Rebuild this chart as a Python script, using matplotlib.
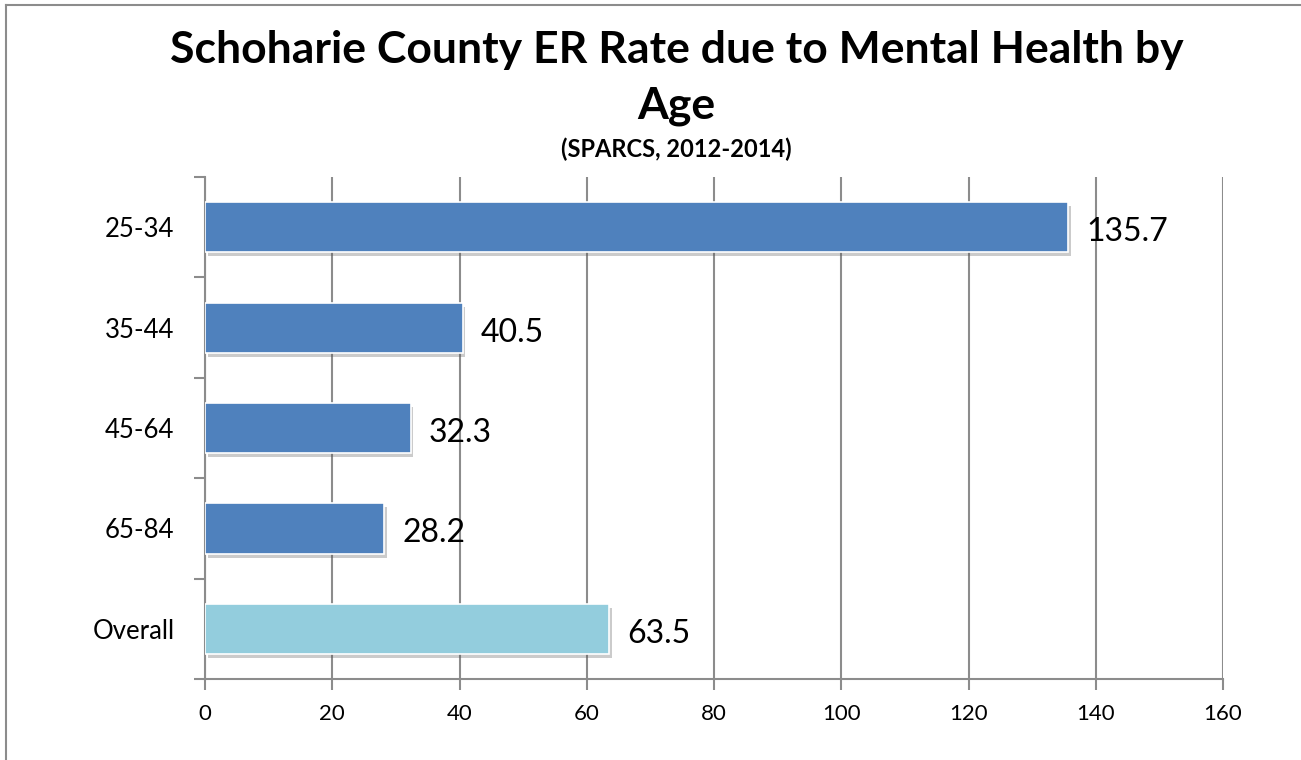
import matplotlib.pyplot as plt
import matplotlib.patheffects as pe
from matplotlib.lines import Line2D

# data
categories = ["25-34", "35-44", "45-64", "65-84", "Overall"]
rates = [135.7, 40.5, 32.3, 28.2, 63.5]
bar_colors = ["#4F81BD", "#4F81BD", "#4F81BD", "#4F81BD", "#93CDDD"]
x_ticks = [0, 20, 40, 60, 80, 100, 120, 140, 160]

plt.rcParams['font.family'] = ['Lato', 'DejaVu Sans']

fig = plt.figure(figsize=(13.01, 7.60), dpi=100)
ax = fig.add_axes([205 / 1301, 81 / 760, 1018 / 1301, 502 / 760])

# outer chart frame, only left and top edges are visible
fx, fy = 6 / 1301, 1 - 5 / 760
fig.lines.append(Line2D([fx, fx], [0, fy], transform=fig.transFigure, color="#8c8c8c", linewidth=1.5))
fig.lines.append(Line2D([fx, 1], [fy, fy], transform=fig.transFigure, color="#8c8c8c", linewidth=1.5))

ypos = list(range(len(categories)))
bars = ax.barh(ypos, rates, height=0.5, color=bar_colors, edgecolor="white", linewidth=1.2, zorder=3)
for b in bars:
    b.set_path_effects([pe.SimplePatchShadow(offset=(2, -3), alpha=0.3, shadow_rgbFace="#555555"), pe.Normal()])

for y, v in zip(ypos, rates):
    ax.text(v + 2.8, y + 0.05, f"{v}", va="center", ha="left", fontsize=23, color="black", zorder=4)

ax.set_xlim(0, 160)
ax.set_ylim(len(categories) - 0.5, -0.5)
ax.set_xticks(x_ticks)
ax.set_xticklabels([str(t) for t in x_ticks], fontsize=16)
ax.set_yticks(ypos)
ax.set_yticklabels(categories, fontsize=18.5)
ax.set_yticks([i - 0.5 for i in range(len(categories) + 1)], minor=True)
ax.tick_params(axis="y", which="major", length=0, pad=22)
ax.tick_params(axis="y", which="minor", length=8, width=1.5, color="#8c8c8c")
ax.tick_params(axis="x", length=8, width=1.5, color="#8c8c8c", pad=10)

ax.grid(axis="x", color="#8c8c8c", linewidth=1.5, zorder=0)
ax.set_axisbelow(True)
for s in ["top", "right"]:
    ax.spines[s].set_visible(False)
for s in ["left", "bottom"]:
    ax.spines[s].set_color("#8c8c8c")
    ax.spines[s].set_linewidth(1.5)

fig.text(0.52, 1 - 50 / 760, "Schoharie County ER Rate due to Mental Health by", ha="center", va="center",
         fontsize=32, fontweight="bold")
fig.text(0.52, 1 - 106 / 760, "Age", ha="center", va="center", fontsize=32, fontweight="bold")
fig.text(0.52, 1 - 149 / 760, "(SPARCS, 2012-2014)", ha="center", va="center", fontsize=17, fontweight="bold")

fig.savefig("out.png", dpi=100)
